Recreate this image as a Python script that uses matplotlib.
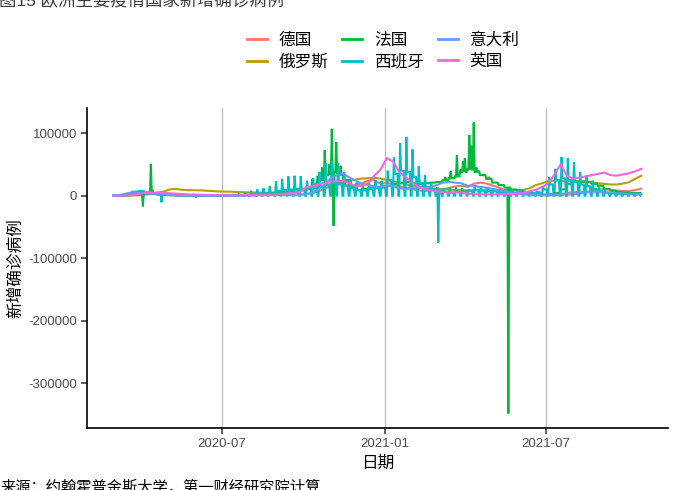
import numpy as np
import pandas as pd
import matplotlib
matplotlib.use("Agg")
import matplotlib.pyplot as plt
from matplotlib.lines import Line2D

plt.rcParams['font.family'] = ['Liberation Sans', 'Noto Sans CJK SC']

# weekly values (thousand cases), weeks starting 2020-03-01 (Sunday)
start = "2020-03-01"

de = [0.02, 0.1, 1.0, 3.5, 5.5, 5.0, 3.5, 2.0, 1.3,
      0.9, 0.7, 0.5, 0.45, 0.35, 0.3, 0.5, 0.6, 0.45,
      0.4, 0.45, 0.55, 0.7, 0.9, 1.1, 1.3, 1.4, 1.2,
      1.3, 1.6, 1.8, 2.0, 2.6, 4.2, 7.0, 11.0, 16.0,
      18.0, 18.0, 17.5, 17.5, 20.0, 24.0, 25.0, 19.0, 21.0,
      18.0, 15.0, 12.5, 10.5, 8.5, 7.5, 8.5, 9.0, 10.0,
      12.5, 15.0, 16.0, 14.0, 19.0, 21.0, 19.5, 16.5, 13.0,
      9.0, 6.5, 4.5, 3.0, 1.6, 1.0, 0.7, 0.6, 0.8,
      1.2, 1.6, 2.3, 3.5, 5.5, 7.5, 9.5, 10.5, 9.5,
      8.5, 7.5, 7.5, 9.0, 11.5]

ru = [0.0, 0.0, 0.05, 0.2, 0.8, 1.5, 2.8, 5.0, 6.5,
      10.0, 11.0, 9.5, 8.9, 8.8, 8.6, 8.0, 7.5, 6.7,
      6.6, 6.4, 6.0, 5.6, 5.2, 5.1, 4.9, 4.8, 4.9,
      5.2, 5.6, 6.1, 7.5, 9.5, 12.0, 15.0, 16.5, 18.0,
      20.0, 22.0, 24.0, 26.0, 27.5, 28.0, 28.5, 27.5, 25.0,
      23.0, 21.0, 19.0, 16.0, 15.0, 13.0, 12.0, 11.0, 10.5,
      9.8, 9.2, 9.0, 8.8, 8.7, 8.8, 8.8, 8.5, 8.5,
      8.6, 8.7, 9.0, 9.5, 12.0, 17.0, 20.0, 23.0, 24.5,
      24.0, 23.5, 23.0, 22.0, 22.0, 21.0, 20.0, 19.0, 18.0,
      18.0, 19.5, 21.5, 27.0, 32.0]

it = [0.3, 1.2, 3.5, 5.5, 4.5, 4.0, 3.5, 3.0, 2.3,
      1.4, 1.0, 0.7, 0.6, 0.35, 0.3, 0.3, 0.25, 0.2,
      0.2, 0.2, 0.25, 0.3, 0.35, 0.5, 0.8, 1.2, 1.4,
      1.5, 1.5, 1.6, 1.7, 2.5, 5.0, 10.0, 18.0, 28.0,
      33.0, 35.0, 29.0, 24.0, 19.0, 17.0, 15.0, 14.0, 16.0,
      15.0, 12.0, 11.0, 12.0, 12.0, 12.0, 14.0, 17.0, 21.0,
      22.0, 21.0, 20.0, 16.0, 16.0, 14.0, 13.0, 11.0, 9.0,
      7.0, 5.0, 4.0, 2.5, 1.8, 1.2, 0.9, 0.8, 1.2,
      2.5, 4.5, 5.5, 6.0, 6.0, 6.5, 6.0, 5.5, 4.5,
      4.0, 3.5, 3.0, 2.8, 2.7]

uk = [0.02, 0.05, 0.3, 1.0, 3.0, 4.5, 5.0, 4.8, 4.5,
      4.0, 3.3, 2.7, 2.2, 1.8, 1.5, 1.2, 1.0, 0.8,
      0.7, 0.6, 0.7, 0.8, 0.8, 1.0, 1.1, 1.1, 1.5,
      2.5, 3.5, 4.2, 6.0, 13.0, 15.0, 18.0, 21.0, 23.0,
      23.0, 24.0, 20.0, 15.0, 16.0, 20.0, 32.0, 42.0, 60.0,
      55.0, 38.0, 30.0, 22.0, 15.0, 11.0, 9.0, 7.0, 5.8,
      5.5, 5.3, 5.0, 3.0, 2.6, 2.4, 2.2, 2.2, 2.2,
      2.4, 2.7, 3.0, 4.5, 7.0, 9.5, 14.0, 20.0, 34.0,
      50.0, 32.0, 27.0, 29.0, 31.0, 33.0, 35.0, 37.0, 33.0,
      32.0, 34.0, 36.0, 39.0, 43.0]

# France: weekly level, plus single-day reports
fr = [0.1, 0.3, 1.0, 2.5, 4.0, 4.0, 3.0, 2.0, 1.5,
      1.0, 0.6, 0.4, 0.3, 0.3, 0.4, 0.4, 0.4, 0.5,
      0.5, 0.6, 0.8, 1.0, 1.5, 2.2, 3.2, 4.5, 5.5,
      7.0, 8.5, 10.0, 11.0, 13.0, 18.0, 25.0, 33.0, 38.0,
      33.0, 25.0, 14.0, 9.0, 11.0, 12.0, 13.0, 13.0, 16.0,
      19.0, 20.0, 22.0, 20.0, 19.0, 20.0, 21.0, 22.0, 25.0,
      28.0, 31.0, 38.0, 42.0, 38.0, 33.0, 27.0, 21.0, 17.0,
      13.0, 10.0, 8.0, 5.0, 3.5, 2.5, 2.0, 2.5, 4.5,
      10.0, 19.0, 23.0, 23.0, 22.0, 19.0, 16.0, 11.0, 8.0,
      6.0, 5.0, 4.5, 4.5]
fr_spike_dates = ["2020-04-03", "2020-04-12", "2020-04-14", "2020-06-02",
                  "2020-10-11", "2020-10-17", "2020-10-22", "2020-10-25",
                  "2020-10-30", "2020-11-02", "2020-11-04", "2020-11-07",
                  "2020-11-12", "2020-11-14", "2021-03-10", "2021-03-16",
                  "2021-03-23", "2021-03-27", "2021-03-30", "2021-04-01",
                  "2021-04-06", "2021-04-08", "2021-04-11", "2021-04-14",
                  "2021-04-17", "2021-04-21", "2021-04-28", "2021-05-20"]
fr_spike_vals = [-17, 51, 9, -2.5,
                 27, 32, 45, 73,
                 50, 107, -48, 86,
                 48, 35, 30, 39,
                 65, 42, 55, 60,
                 97, 80, 117, 45,
                 40, 33, 30, -348]

# Spain: Monday report, Tue-Fri report, no weekend reports from week 18
es_peak = [0.02, 0.5, 2.5, 6.5, 7.5, 5.5, 4.5, 4.0, 1.5,
           1.0, 0.8, 0.6, 0.5, 0.4, 0.4, 0.4, 0.4, 0.5,
           0.8, 1.5, 3.0, 5.0, 8.0, 10.0, 12.0, 15.0, 23.0,
           27.0, 31.0, 32.0, 31.0, 24.0, 28.0, 38.0, 52.0, 55.0,
           52.0, 38.0, 26.0, 21.0, 18.0, 21.0, 25.0, 24.0, 40.0,
           61.0, 84.0, 94.0, 74.0, 47.0, 33.0, 21.0, 14.0, 12.0,
           13.0, 14.0, 12.0, 10.0, 15.0, 15.0, 14.0, 12.0, 11.0,
           10.0, 9.0, 9.0, 8.0, 7.0, 8.0, 15.0, 30.0, 43.0,
           62.0, 60.0, 54.0, 38.0, 32.0, 24.0, 16.0, 11.0, 7.0,
           5.0, 4.5, 4.0, 3.6]
es_mid = [0.02, 0.5, 2.5, 6.5, 7.5, 5.5, 4.5, 4.0, 1.5,
          1.0, 0.8, 0.6, 0.5, 0.4, 0.4, 0.4, 0.4, 0.5,
          0.6, 0.8, 1.5, 2.0, 2.5, 3.5, 4.0, 4.5, 8.0,
          9.0, 10.0, 11.0, 10.0, 11.0, 12.0, 14.0, 18.0, 20.0,
          20.0, 16.0, 12.0, 9.0, 9.0, 11.0, 12.0, 16.0, 25.0,
          35.0, 40.0, 38.0, 30.0, 20.0, 13.0, 10.0, 7.0, 6.0,
          5.0, 6.0, 7.0, 8.0, 9.0, 8.0, 7.0, 7.0, 5.0,
          5.0, 4.5, 4.0, 4.0, 4.5, 5.5, 10.0, 18.0, 25.0,
          28.0, 25.0, 22.0, 18.0, 15.0, 11.0, 7.0, 5.0, 4.0,
          3.0, 2.5, 2.5, 2.0]
es_gap_from = 18
es_spike_dates = ["2020-04-24", "2021-03-02"]
es_spike_vals = [-10.5, -75]

names = ["德国", "俄罗斯", "法国", "西班牙", "意大利", "英国"]
colors = ["#F8766D", "#B79F00", "#00BA38", "#00BFC4", "#619CFF", "#F564E3"]

t0 = pd.Timestamp(start)
weeks = pd.date_range(start, periods=len(de), freq="7D")

# daily France
fr_days = pd.date_range(start, periods=len(fr) * 7, freq="D")
fr_daily = np.repeat(np.array(fr), 7)
for d, v in zip(fr_spike_dates, fr_spike_vals):
    fr_daily[(pd.Timestamp(d) - t0).days] = v

# daily Spain
es_days = pd.date_range(start, periods=len(es_peak) * 7, freq="D")
es_daily = []
for k in range(len(es_peak)):
    for dow in range(7):
        if k >= es_gap_from and dow in (0, 6):
            es_daily.append(0.0)
        elif k >= es_gap_from and dow == 1:
            es_daily.append(es_peak[k])
        else:
            es_daily.append(es_mid[k])
es_daily = np.array(es_daily)
for d, v in zip(es_spike_dates, es_spike_vals):
    es_daily[(pd.Timestamp(d) - t0).days] = v

series = [(weeks, de), (weeks, ru), (fr_days, fr_daily),
          (es_days, es_daily), (weeks, it), (weeks, uk)]

fig = plt.figure(figsize=(7, 4.9), dpi=100)
ax = fig.add_axes([87/700, 62/490, 581/700, 320/490])

for (x, y), c in zip(series, colors):
    ax.plot(x, np.array(y) * 1000, color=c, lw=1.5, solid_joinstyle='miter')

ax.set_xlim(pd.Timestamp("2020-01-31"), pd.Timestamp("2021-11-16"))
ax.set_ylim(-371250, 140250)
ax.set_yticks([-300000, -200000, -100000, 0, 100000])
ax.set_yticklabels(["-300000", "-200000", "-100000", "0", "100000"])
xt = [pd.Timestamp("2020-07-01"), pd.Timestamp("2021-01-01"), pd.Timestamp("2021-07-01")]
ax.set_xticks(xt)
ax.set_xticklabels(["2020-07", "2021-01", "2021-07"])
ax.grid(axis='x', color='#BEBEBE', lw=0.9)
ax.set_axisbelow(True)
for s in ["top", "right"]:
    ax.spines[s].set_visible(False)
for s in ["left", "bottom"]:
    ax.spines[s].set_linewidth(1.2)
    ax.spines[s].set_color('black')
ax.tick_params(length=4, width=1.1, color='#333333', labelsize=9.5,
               labelcolor='#4D4D4D', pad=3)

ax.set_xlabel("日期", fontsize=12, labelpad=4)
ax.set_ylabel("新增确诊病例", fontsize=12, labelpad=4)

handles = [Line2D([], [], color=c, lw=2) for c in colors]
fig.legend(handles, names, ncol=3, loc='center', bbox_to_anchor=(383/700, 1 - 51/490),
           frameon=False, fontsize=12, handlelength=1.2, handletextpad=0.7,
           columnspacing=0.85, labelspacing=0.35, borderpad=0)

fig.text(-0.002, 1 - 6/490, "图15 欧洲主要疫情国家新增确诊病例", fontsize=12.5,
         va='baseline', ha='left', color='#3c3c3c')
fig.text(0.0, 1 - 480/490, "来源：约翰霍普金斯大学，第一财经研究院计算", fontsize=11,
         va='top', ha='left', color='black')

fig.savefig("out.png", dpi=100)
